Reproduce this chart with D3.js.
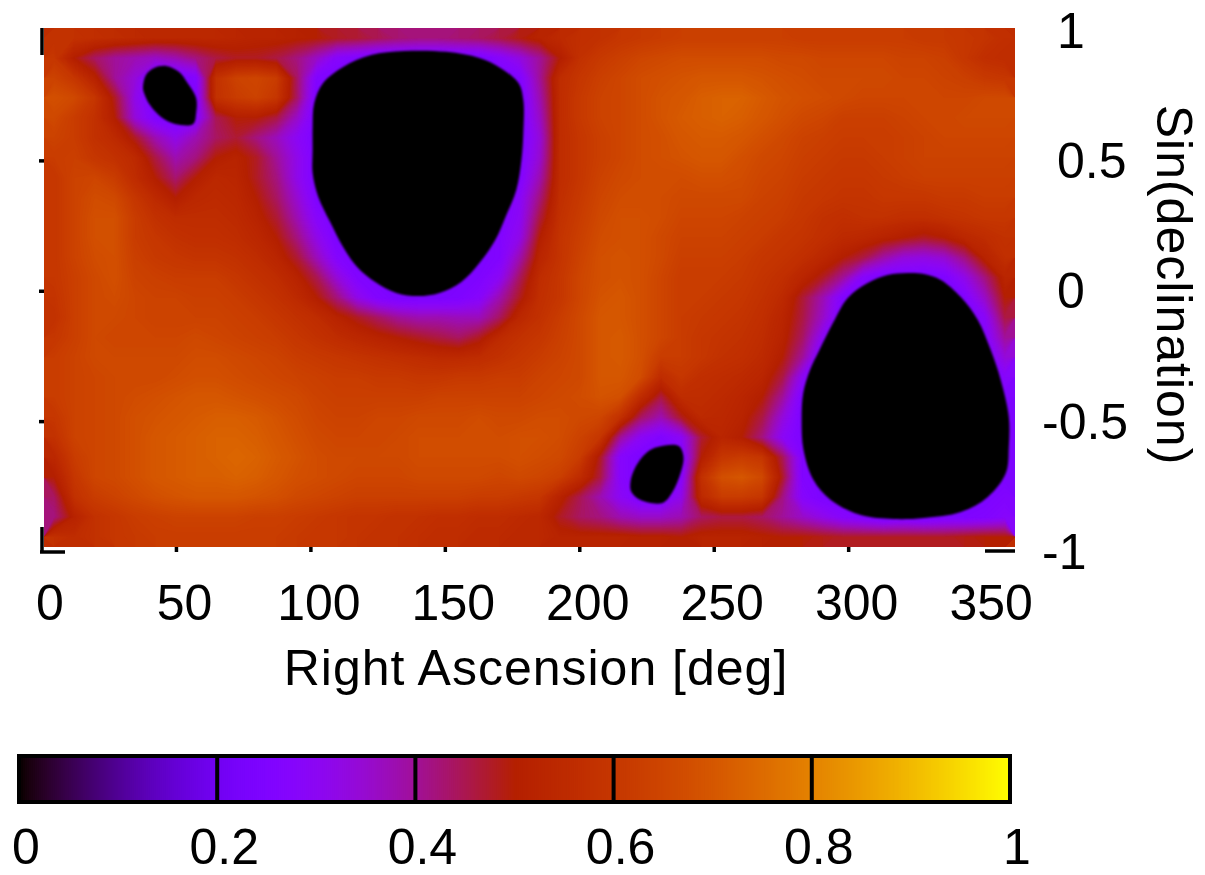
<!DOCTYPE html>
<html>
  <head>
    <meta charset="utf-8">
    <title>Sky coverage map</title>
    <script src="https://d3js.org/d3.v7.min.js"></script>
    <style>
      html, body { margin: 0; background: #fff; }
      text { font-family: "Liberation Sans", sans-serif; font-size: 50px; fill: #000; }
      .title { letter-spacing: 1px; }
    </style>
  </head>
  <body>
    <svg id="chart" width="1205" height="875"></svg>
    <script>
      // tick labels
      const raTicks = [0, 50, 100, 150, 200, 250, 300, 350];
      const sinTicks = [1, 0.5, 0, -0.5, -1];
      const barTicks = [0, 0.2, 0.4, 0.6, 0.8, 1];

      // coverage in percent. 48 columns (7.5 deg), 26 rows (top = +1).
      // cells under the four holes keep the rim value, the hole outlines below paint them black
      const coverage = [
        [58,58,57,56,55,54,54,54, 54,53,52,52,51,50,48,47, 45,43,42,42,43,44,46,49, 52,55,57,58,60,61,62,63, 63,63,63,63,63,62,62,62, 62,62,62,61,61,60,59,57],
        [60,50,44,40,38,36,38,42, 46,48,48,46,42,36,28,26, 24,24,24,24,24,24,28,33, 40,50,58,61,63,65,66,67, 67,67,67,67,66,66,65,65, 65,65,64,64,63,60,57,56],
        [64,60,52,40,34,24,24,27, 58,64,65,62,44,26,24,24, 24,24,24,24,24,24,24,26, 40,56,60,63,65,67,68,69, 70,70,70,69,68,67,66,66, 66,66,65,65,64,63,61,60],
        [68,66,60,48,32,24,24,26, 58,62,64,60,44,24,24,24, 24,24,24,24,24,24,24,24, 38,56,61,64,65,67,69,70, 72,73,73,71,69,68,67,66, 65,65,65,65,65,65,66,66],
        [66,62,58,50,34,26,24,28, 45,50,50,46,36,24,24,24, 24,24,24,24,24,24,24,24, 36,56,61,64,65,67,69,71, 72,73,72,70,68,66,65,63, 63,63,64,65,65,66,66,66],
        [64,62,58,55,48,38,32,38, 44,47,42,37,30,24,24,24, 24,24,24,24,24,24,24,24, 34,56,60,63,65,67,68,70, 71,71,70,68,66,64,63,62, 62,62,63,64,65,65,65,65],
        [62,63,60,58,55,46,38,42, 50,52,48,40,32,24,24,24, 24,24,24,24,24,24,24,25, 35,56,60,63,65,67,68,69, 70,70,68,66,65,63,62,61, 61,62,63,64,64,64,64,64],
        [60,64,65,62,56,50,43,50, 54,53,48,42,32,24,24,24, 24,24,24,24,24,24,24,26, 38,56,60,64,66,67,67,67, 68,68,67,65,64,62,61,60, 60,61,62,63,63,63,63,63],
        [60,64,67,66,60,55,50,54, 55,54,50,44,35,25,24,24, 24,24,24,24,24,24,24,29, 42,57,61,65,67,67,67,66, 66,66,66,64,63,61,60,59, 59,60,60,60,61,61,62,62],
        [60,64,68,68,62,58,56,56, 56,55,52,47,38,28,24,24, 24,24,24,24,24,24,25,30, 46,58,62,66,68,68,67,65, 65,65,64,63,62,60,58,57, 58,58,57,57,58,59,60,60],
        [60,64,68,68,62,60,58,57, 57,56,54,50,42,32,24,24, 24,24,24,24,24,24,26,32, 50,59,63,67,68,68,66,64, 64,64,63,62,60,59,57,55, 54,52,50,48,50,54,56,58],
        [60,64,67,68,63,61,60,59, 59,58,56,53,47,37,27,24, 24,24,24,24,24,24,26,38, 53,59,64,68,69,68,66,63, 63,63,62,60,59,57,54,50, 46,39,34,33,35,42,52,57],
        [60,63,66,68,64,63,62,62, 62,60,58,56,52,45,34,26, 24,24,24,24,24,25,30,44, 56,60,65,68,69,68,65,62, 62,62,61,59,57,53,48,40, 28,24,24,24,25,32,42,53],
        [59,63,66,67,65,64,64,63, 63,62,60,58,55,50,42,32, 26,24,24,24,25,28,38,48, 57,60,65,69,70,68,65,62, 62,61,60,58,55,47,38,26, 24,24,24,24,24,26,36,50],
        [58,63,66,66,65,64,64,64, 64,63,62,60,58,56,52,48, 44,40,38,38,37,37,44,54, 58,62,66,70,70,68,65,62, 61,60,59,57,53,46,36,24, 24,24,24,24,24,24,29,46],
        [60,63,66,65,65,65,65,66, 65,64,63,62,60,58,56,54, 52,50,48,46,44,48,55,58, 60,63,66,70,71,68,65,62, 60,59,58,56,52,44,30,24, 24,24,24,24,24,24,27,40],
        [62,64,66,66,66,66,66,67, 67,66,65,64,62,61,60,59, 58,57,56,55,55,56,58,60, 62,64,66,70,71,68,62,62, 60,58,57,55,50,40,24,24, 24,24,24,24,24,24,25,34],
        [62,64,65,66,66,66,67,68, 68,67,66,65,64,63,62,62, 61,61,60,60,61,61,62,62, 64,65,66,70,70,67,56,60, 57,56,55,53,46,30,24,24, 24,24,24,24,24,24,24,28],
        [62,64,65,66,67,68,69,70, 70,69,68,67,66,64,63,63, 63,63,63,64,64,64,64,64, 65,66,67,69,68,56,46,56, 56,55,53,50,40,25,24,24, 24,24,24,24,24,24,24,25],
        [60,64,65,66,68,69,70,71, 72,72,71,69,67,65,64,64, 65,65,66,66,66,67,66,66, 67,67,66,65,58,44,38,48, 55,54,52,46,34,24,24,24, 24,24,24,24,24,24,24,24],
        [58,64,65,66,68,70,71,72, 73,73,72,70,68,66,65,65, 65,66,67,67,67,67,67,68, 68,67,64,60,40,30,26,30, 47,53,50,42,30,24,24,24, 24,24,24,24,24,24,24,24],
        [54,62,65,66,68,70,71,72, 73,74,73,71,69,67,66,66, 66,66,67,67,67,67,67,68, 67,66,62,48,28,24,24,26, 50,60,62,60,45,26,24,24, 24,24,24,24,24,24,24,24],
        [50,60,65,66,68,70,71,72, 72,73,72,70,68,67,66,65, 65,65,66,66,66,66,65,66, 65,63,56,46,28,24,24,28, 58,68,70,66,48,26,24,24, 24,24,24,24,24,24,24,24],
        [44,58,62,64,66,68,69,70, 70,70,69,68,66,65,64,63, 63,63,63,63,63,62,62,61, 60,52,45,38,30,25,25,32, 55,62,62,60,42,28,24,24, 24,24,24,24,24,24,24,26],
        [42,52,58,60,62,63,64,64, 64,64,63,63,62,61,60,59, 59,58,58,57,57,56,56,55, 54,48,44,42,38,36,36,38, 44,46,46,44,40,36,32,28, 26,24,25,24,25,25,26,28],
        [58,56,58,60,61,62,62,62, 62,62,62,62,61,60,60,59, 58,58,57,56,56,55,55,54, 54,52,52,52,52,51,51,50, 52,52,52,51,50,50,49,48, 48,48,48,48,48,49,50,50]
      ];

      // zero coverage regions, [ra, sin(dec)]
      const holeA = [[100.2,.711],[103.5,.788],[110.9,.850],[121.3,.896],[133.6,.911],[149.2,.908],[161.4,.884],[169.2,.846],[175.9,.788],[177.7,.723],[177.7,.595],[177,.491],[175.1,.376],[171.1,.272],[167.3,.183],[161.4,.094],[154.7,.021],[146.6,-.021],[138.8,-.033],[130.6,-.021],[122.8,.021],[116.1,.079],[110.9,.156],[106.1,.252],[101.7,.349],[99.6,.441],[99.6,.530],[99.6,.618]];
      const holeB = [[36.7,.773],[37.8,.819],[40.8,.846],[45.3,.854],[50.1,.830],[53.2,.788],[56.4,.730],[56.4,.672],[55.3,.630],[48.6,.630],[43.4,.657],[39.3,.703],[37.1,.750]];
      const holeC = [[320.2,.056],[312.8,.048],[305.4,.017],[298,-.040],[292.5,-.137],[287.5,-.241],[284,-.318],[281.5,-.407],[280.9,-.511],[281.6,-.626],[285.3,-.742],[291.7,-.819],[302.8,-.877],[315,-.892],[326.2,-.888],[339.9,-.865],[349.9,-.807],[356.6,-.715],[357.7,-.615],[357.7,-.499],[354.7,-.356],[351,-.241],[346.2,-.125],[339.9,-.037],[332.5,.029],[326.2,.052]];
      const holeD = [[217.4,-.753],[219.3,-.692],[223.7,-.634],[227.5,-.615],[235.3,-.611],[237.1,-.653],[236,-.715],[233,-.788],[229.3,-.830],[221.2,-.819],[217.8,-.788]];

      const svg = d3.select("#chart");
      const nCols = coverage[0].length;
      const nRows = coverage.length;

      // the image sits a little off the axes in the original
      const x = d3.scaleLinear().domain([0, 360]).range([44, 1015]);
      const y = d3.scaleLinear().domain([1, -1]).range([28, 547]);
      const xAxisScale = d3.scaleLinear().domain([0, 360]).range([42, 1010]);
      const yAxisScale = d3.scaleLinear().domain([1, -1]).range([30.5, 552]);
      const barScale = d3.scaleLinear().domain([0, 1]).range([19, 1010]);

      // gnuplot rgbformulae 7,5,15
      function palette(v) {
        const r = Math.sqrt(v);
        const g = v * v * v;
        const b = Math.max(0, Math.sin(2 * Math.PI * v));
        return d3.rgb(r * 255, g * 255, b * 255).formatHex();
      }

      svg.append("clipPath").attr("id", "plotClip")
        .append("rect")
          .attr("x", x(0)).attr("y", y(1))
          .attr("width", x(360) - x(0)).attr("height", y(-1) - y(1));

      svg.append("filter").attr("id", "soft")
        .append("feGaussianBlur").attr("stdDeviation", 1.3);

      const plot = svg.append("g").attr("clip-path", "url(#plotClip)");

      // contours chop the corners, so lay a base colour first
      plot.append("rect")
        .attr("x", x(0)).attr("y", y(1))
        .attr("width", x(360) - x(0)).attr("height", y(-1) - y(1))
        .attr("fill", palette(0.56));

      // coverage map as filled contours
      const gridX = d3.scaleLinear().domain([0, nCols]).range([x(0), x(360)]);
      const gridY = d3.scaleLinear().domain([0, nRows]).range([y(1), y(-1)]);
      const gridPath = d3.geoPath(d3.geoTransform({
        point: function(px, py) { this.stream.point(gridX(px), gridY(py)); }
      }));
      const contours = d3.contours()
        .size([nCols, nRows])
        .thresholds(d3.range(0, 100, 0.5))(coverage.flat());

      plot.selectAll(".level")
        .data(contours)
        .enter().append("path")
          .classed("level", true)
          .attr("d", gridPath)
          .attr("fill", function(d) { return palette(d.value / 100); });

      // holes
      const holeLine = d3.line()
        .x(function(d) { return x(d[0]); })
        .y(function(d) { return y(d[1]); })
        .curve(d3.curveCatmullRomClosed);

      plot.selectAll(".hole")
        .data([holeA, holeB, holeC, holeD])
        .enter().append("path")
          .classed("hole", true)
          .attr("d", holeLine)
          .attr("fill", "#000")
          .attr("filter", "url(#soft)");

      // ticks poke out from behind the image
      const tickGroup = svg.append("g").attr("stroke", "#000").attr("stroke-width", 3.5);
      tickGroup.selectAll(".xtick")
        .data(raTicks.slice(1, -1))
        .enter().append("line")
          .attr("x1", xAxisScale).attr("x2", xAxisScale)
          .attr("y1", y(-1)).attr("y2", y(-1) + 5);
      tickGroup.selectAll(".ytick")
        .data(sinTicks.slice(1, -1))
        .enter().append("line")
          .attr("x1", x(0) - 5).attr("x2", x(0))
          .attr("y1", yAxisScale).attr("y2", yAxisScale);
      // corners
      tickGroup.append("line").attr("x1", 42).attr("x2", 42).attr("y1", 28).attr("y2", 55);
      tickGroup.append("line").attr("x1", 42).attr("x2", 42).attr("y1", 527).attr("y2", 553);
      tickGroup.append("line").attr("x1", 40).attr("x2", 65).attr("y1", 552).attr("y2", 552);
      tickGroup.append("line").attr("x1", 985).attr("x2", 1015).attr("y1", 551).attr("y2", 551);

      // tick labels
      svg.selectAll(".xlabel")
        .data(raTicks)
        .enter().append("text")
          .attr("x", function(d) { return xAxisScale(d) + 8; })
          .attr("y", 620)
          .attr("text-anchor", "middle")
          .text(function(d) { return d; });

      svg.selectAll(".ylabel")
        .data(sinTicks)
        .enter().append("text")
          .attr("x", function(d) { return d < 0 ? 1042 : 1057; })
          .attr("y", function(d) { return yAxisScale(d) + 17; })
          .text(function(d) { return d; });

      svg.append("text")
        .classed("title", true)
        .attr("x", 536).attr("y", 685)
        .attr("text-anchor", "middle")
        .text("Right Ascension [deg]");

      svg.append("text")
        .classed("title", true)
        .attr("transform", "translate(1157,285) rotate(90)")
        .attr("text-anchor", "middle")
        .text("Sin(declination)");

      // colour bar
      svg.selectAll(".swatch")
        .data(d3.range(0, 1, 0.002))
        .enter().append("rect")
          .classed("swatch", true)
          .attr("x", barScale)
          .attr("y", 756)
          .attr("width", 3)
          .attr("height", 46)
          .attr("fill", palette);

      svg.append("rect")
        .attr("x", barScale(0)).attr("y", 756)
        .attr("width", barScale(1) - barScale(0)).attr("height", 46)
        .attr("fill", "none").attr("stroke", "#000").attr("stroke-width", 4);

      svg.selectAll(".divider")
        .data(barTicks.slice(1, -1))
        .enter().append("line")
          .attr("x1", barScale).attr("x2", barScale)
          .attr("y1", 756).attr("y2", 802)
          .attr("stroke", "#000").attr("stroke-width", 4);

      // baseline kept so the text boxes stay inside the 875 px page
      svg.selectAll(".barlabel")
        .data(barTicks)
        .enter().append("text")
          .attr("x", function(d) { return barScale(d) + 7; })
          .attr("y", 864)
          .attr("text-anchor", "middle")
          .text(function(d) { return d; });
    </script>
  </body>
</html>
